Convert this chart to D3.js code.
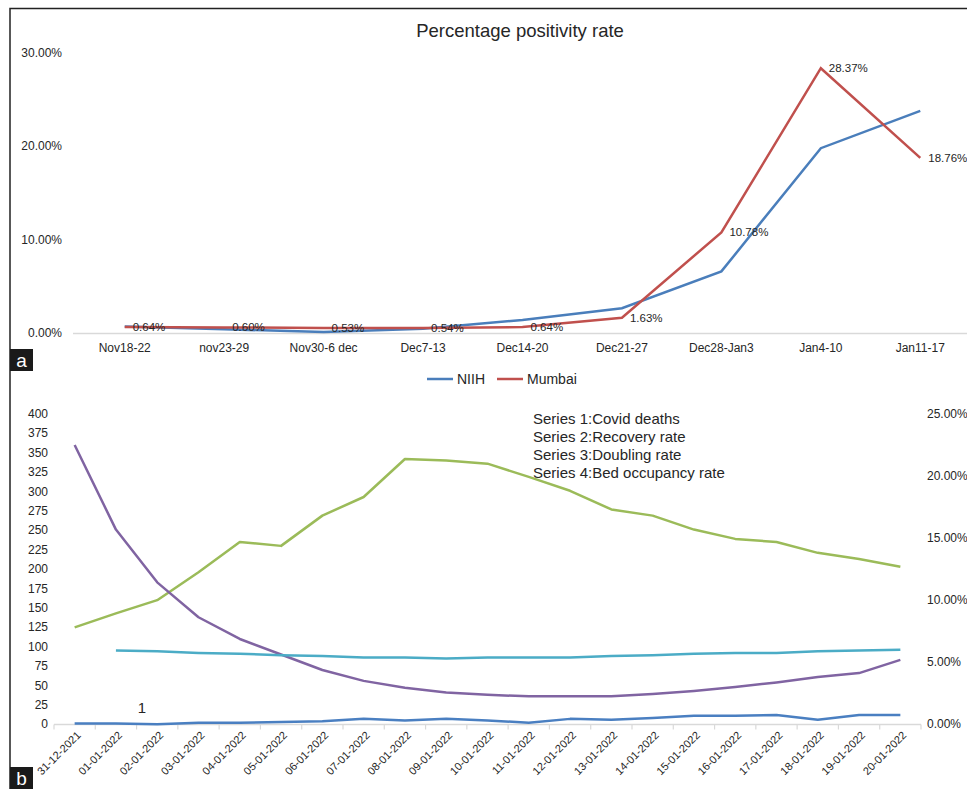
<!DOCTYPE html>
<html>
<head>
<meta charset="utf-8">
<script src="https://cdn.jsdelivr.net/npm/d3@7"></script>
<style>
  body { margin: 0; background: #fff; }
  svg text { font-family: "Liberation Sans", Arial, sans-serif; fill: #262626; }
</style>
</head>
<body>
<div class="chart"></div>
<script>
// ---- panel a data ----
const weeks = ['Nov18-22', 'nov23-29', 'Nov30-6 dec', 'Dec7-13', 'Dec14-20', 'Dec21-27', 'Dec28-Jan3', 'Jan4-10', 'Jan11-17'];
const niih = [0.70, 0.40, 0.10, 0.45, 1.40, 2.65, 6.60, 19.8, 23.8];
const mumbai = [0.64, 0.60, 0.53, 0.54, 0.64, 1.63, 10.78, 28.37, 18.76];
const topTicks = [0, 10, 20, 30];

// ---- panel b data ----
const days = ['31-12-2021', '01-01-2022', '02-01-2022', '03-01-2022', '04-01-2022', '05-01-2022', '06-01-2022',
  '07-01-2022', '08-01-2022', '09-01-2022', '10-01-2022', '11-01-2022', '12-01-2022', '13-01-2022',
  '14-01-2022', '15-01-2022', '16-01-2022', '17-01-2022', '18-01-2022', '19-01-2022', '20-01-2022'];
const deaths = [1, 1, 0, 2, 2, 3, 4, 7, 5, 7, 5, 2, 7, 6, 8, 11, 11, 12, 6, 12, 12];
const recovery = [125, 143, 160, 196, 235, 230, 269, 293, 342, 340, 336, 319, 301, 277, 269, 251, 239, 235, 221, 213, 203];
const doubling = [360, 251, 183, 138, 110, 90, 70, 56, 47, 41, 38, 36, 36, 36, 39, 43, 48, 54, 61, 66, 83];
const bedOcc = [null, 5.94, 5.88, 5.75, 5.69, 5.56, 5.50, 5.38, 5.38, 5.31, 5.38, 5.38, 5.38, 5.50, 5.56, 5.69, 5.75, 5.75, 5.88, 5.94, 6.00];
const leftTicks = d3.range(0, 401, 25);
const rightTicks = [0, 5, 10, 15, 20, 25];
const notes = ['Series 1:Covid deaths', 'Series 2:Recovery rate', 'Series 3:Doubling rate', 'Series 4:Bed occupancy rate'];

const width = 967, height = 789;
const svg = d3.select('.chart').append('svg')
  .attr('width', width)
  .attr('height', height);

// frame
svg.append('path')
  .attr('d', `M10,${height} L10,8.5 L${width},8.5`)
  .attr('fill', 'none')
  .attr('stroke', '#222')
  .attr('stroke-width', 1.5);

// ================= panel a =================
const x1 = d3.scaleBand().domain(weeks).range([75, 970]);
const y1 = d3.scaleLinear().domain([0, 30]).range([333, 53]);

svg.append('text')
  .attr('x', 520).attr('y', 30)
  .attr('text-anchor', 'middle')
  .attr('dominant-baseline', 'central')
  .style('font-size', '18.5px')
  .text('Percentage positivity rate');

svg.append('line')
  .attr('x1', 73).attr('x2', width)
  .attr('y1', y1(0) + 0.5).attr('y2', y1(0) + 0.5)
  .attr('stroke', '#d9d9d9').attr('stroke-width', 1.5);

svg.selectAll('.ytop').data(topTicks).join('text')
  .attr('class', 'ytop')
  .attr('x', 62).attr('y', d => y1(d))
  .attr('text-anchor', 'end')
  .attr('dominant-baseline', 'central')
  .style('font-size', '12px')
  .text(d => d.toFixed(2) + '%');

svg.selectAll('.xtop').data(weeks).join('text')
  .attr('class', 'xtop')
  .attr('x', d => x1(d) + x1.bandwidth() / 2)
  .attr('y', 348)
  .attr('text-anchor', 'middle')
  .attr('dominant-baseline', 'central')
  .style('font-size', '12px')
  .text(d => d);

const line1 = d3.line()
  .x((d, i) => x1(weeks[i]) + x1.bandwidth() / 2)
  .y(d => y1(d));

svg.append('path').datum(niih)
  .attr('d', line1)
  .attr('fill', 'none')
  .attr('stroke', '#4a7ebb')
  .attr('stroke-width', 2.5);

svg.append('path').datum(mumbai)
  .attr('d', line1)
  .attr('fill', 'none')
  .attr('stroke', '#c0504d')
  .attr('stroke-width', 2.5);

svg.selectAll('.mlab').data(mumbai).join('text')
  .attr('class', 'mlab')
  .attr('x', (d, i) => x1(weeks[i]) + x1.bandwidth() / 2 + 8)
  .attr('y', d => y1(d))
  .attr('dominant-baseline', 'central')
  .style('font-size', '11.5px')
  .text(d => d.toFixed(2) + '%');

// legend a
const legA = [['NIIH', '#4a7ebb', 427], ['Mumbai', '#c0504d', 497]];
legA.forEach(([name, col, lx]) => {
  svg.append('line')
    .attr('x1', lx).attr('x2', lx + 26)
    .attr('y1', 379).attr('y2', 379)
    .attr('stroke', col).attr('stroke-width', 2.5);
  svg.append('text')
    .attr('x', lx + 30).attr('y', 379)
    .attr('dominant-baseline', 'central')
    .style('font-size', '14px')
    .text(name);
});

// ================= panel b =================
const x2 = d3.scaleBand().domain(days).range([54, 921]);
const yL = d3.scaleLinear().domain([0, 400]).range([724.3, 414]);
const yR = d3.scaleLinear().domain([0, 25]).range([724.3, 414]);

svg.append('line')
  .attr('x1', 54).attr('x2', 921)
  .attr('y1', 724.5).attr('y2', 724.5)
  .attr('stroke', '#d9d9d9').attr('stroke-width', 1.5);

svg.selectAll('.tickb').data(days.concat(['end'])).join('line')
  .attr('class', 'tickb')
  .attr('x1', (d, i) => 54 + i * x2.step())
  .attr('x2', (d, i) => 54 + i * x2.step())
  .attr('y1', 724.5).attr('y2', 729.5)
  .attr('stroke', '#d9d9d9').attr('stroke-width', 1.2);

svg.selectAll('.yleft').data(leftTicks).join('text')
  .attr('class', 'yleft')
  .attr('x', 48).attr('y', d => yL(d))
  .attr('text-anchor', 'end')
  .attr('dominant-baseline', 'central')
  .style('font-size', '12px')
  .text(d => d);

svg.selectAll('.yright').data(rightTicks).join('text')
  .attr('class', 'yright')
  .attr('x', 927).attr('y', d => yR(d))
  .attr('dominant-baseline', 'central')
  .style('font-size', '12px')
  .text(d => d.toFixed(2) + '%');

svg.selectAll('.xb').data(days).join('text')
  .attr('class', 'xb')
  .attr('transform', d => `translate(${x2(d) + x2.bandwidth() / 2 + 4},${733}) rotate(-45)`)
  .attr('text-anchor', 'end')
  .attr('dominant-baseline', 'central')
  .style('font-size', '11px')
  .text(d => d);

const cx = (i) => x2(days[i]) + x2.bandwidth() / 2;
const lineL = d3.line().defined(d => d != null).x((d, i) => cx(i)).y(d => yL(d));
const lineR = d3.line().defined(d => d != null).x((d, i) => cx(i)).y(d => yR(d));

const seriesB = [
  [deaths, '#4a7fc1', lineL],
  [recovery, '#9bbb59', lineL],
  [doubling, '#8064a2', lineL],
  [bedOcc, '#4bacc6', lineR]
];
seriesB.forEach(([vals, col, gen]) => {
  svg.append('path').datum(vals)
    .attr('d', gen)
    .attr('fill', 'none')
    .attr('stroke', col)
    .attr('stroke-width', 2.5)
    .attr('stroke-linejoin', 'round');
});

// data label on deaths
svg.append('text')
  .attr('x', cx(1) + 26).attr('y', yL(deaths[1]) - 16)
  .attr('text-anchor', 'middle')
  .attr('dominant-baseline', 'central')
  .style('font-size', '15px')
  .text(deaths[1]);

svg.selectAll('.note').data(notes).join('text')
  .attr('class', 'note')
  .attr('x', 533)
  .attr('y', (d, i) => 418 + i * 18)
  .attr('dominant-baseline', 'central')
  .style('font-size', '15px')
  .text(d => d);

// panel tags
[['a', 349], ['b', 767]].forEach(([t, ty]) => {
  svg.append('rect')
    .attr('x', 10).attr('y', ty)
    .attr('width', 23).attr('height', 22)
    .attr('fill', '#1a1a1a');
  svg.append('text')
    .attr('x', 21.5).attr('y', ty + 11)
    .attr('text-anchor', 'middle')
    .attr('dominant-baseline', 'central')
    .style('font-size', '19px')
    .style('fill', '#fff')
    .text(t);
});
</script>
</body>
</html>
